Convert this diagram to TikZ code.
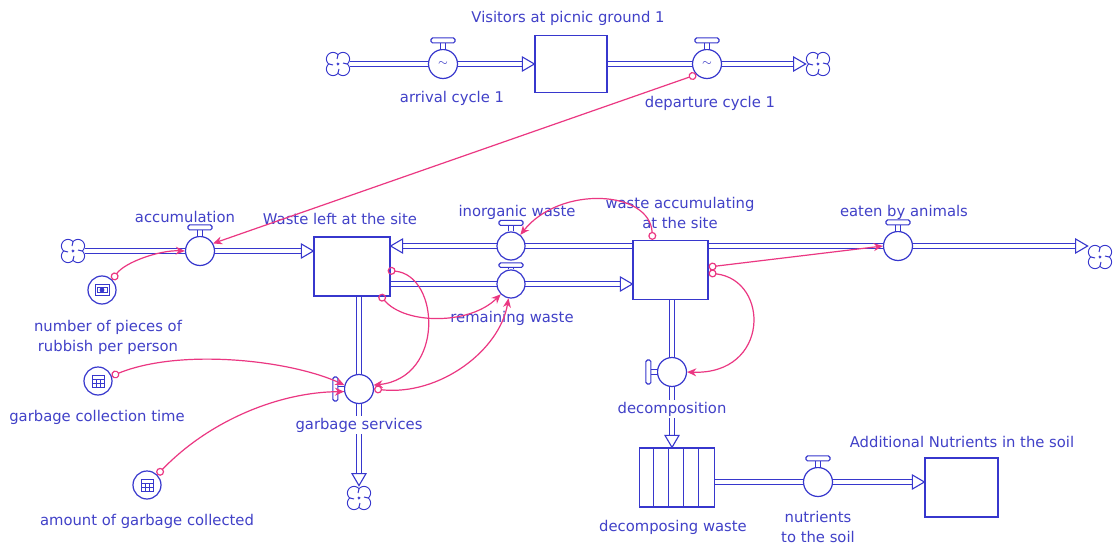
\documentclass[tikz,border=0pt]{standalone}
\usepackage{fontspec}
\newfontfamily\lblfont{DejaVu Sans}
\usetikzlibrary{arrows.meta}
\definecolor{fblue}{RGB}{55,55,205}
\definecolor{tblue}{RGB}{65,65,200}
\definecolor{cpink}{RGB}{235,55,130}
\pgfdeclarelayer{bg}
\pgfsetlayers{bg,main}
\newcommand\ftip[2]{\draw[tipshape, shift={#1}, rotate=#2] (0,0) -- (-12,-7) -- (-12,7) -- cycle;}
\newcommand\hdltop[1]{\draw[pipe] (#1.north) -- ++(0,-6);
  \draw[handlebar] ([shift={(-12,-6)}]#1.north) rectangle ([shift={(12,-11)}]#1.north);}
\newcommand\hdlleft[1]{\draw[pipe] (#1.west) -- ++(-6,0);
  \draw[handlebar] ([shift={(-6,-12)}]#1.west) rectangle ([shift={(-11,12)}]#1.west);}
\newcommand\calcicon[1]{\draw[fblue, line width=0.45pt] ([shift={(-6,-6)}]#1.center) rectangle ([shift={(6,6)}]#1.center);
  \draw[fblue, line width=0.45pt] ([shift={(-6,-2)}]#1.center) -- ([shift={(6,-2)}]#1.center)
    ([shift={(-6,2)}]#1.center) -- ([shift={(6,2)}]#1.center)
    ([shift={(-2,-2)}]#1.center) -- ([shift={(-2,6)}]#1.center)
    ([shift={(2,-2)}]#1.center) -- ([shift={(2,6)}]#1.center);}
\newcommand\cloudicon[1]{%
  \foreach \dx/\dy in {-5/-5,5/-5,-5/5,5/5}
    {\draw[fblue, line width=0.6pt, fill=white] ([shift={(\dx,\dy)}]#1.center) circle (3.25pt);}
  \foreach \dx/\dy in {-5/-5,5/-5,-5/5,5/5}
    {\fill[white] ([shift={(\dx,\dy)}]#1.center) circle (2.95pt);}
  \draw[fblue, line width=0.5pt] ([shift={(0,-9)}]#1.center) -- ([shift={(-1,-5)}]#1.center)
    ([shift={(9,0)}]#1.center) -- ([shift={(5,-1)}]#1.center)
    ([shift={(0,9)}]#1.center) -- ([shift={(1,5)}]#1.center)
    ([shift={(-9,0)}]#1.center) -- ([shift={(-5,1)}]#1.center);
}
\tikzset{
  valve/.style={circle, draw=fblue, line width=0.6pt, fill=white, minimum size=14.5pt, inner sep=0pt},
  stock/.style={rectangle, draw=fblue, line width=0.6pt, fill=white, minimum width=37.5pt, minimum height=29.5pt, inner sep=0pt},
  conv/.style={circle, draw=fblue, line width=0.6pt, fill=white, minimum size=14pt, inner sep=0pt},
  cloudn/.style={circle, minimum size=12pt, inner sep=0pt},
  lbl/.style={inner sep=1pt, align=center},
  lblw/.style={lbl, fill=white},
  pipe/.style={draw=fblue, line width=0.55pt, double=white, double distance=1.6pt},
  tipshape/.style={draw=fblue, line width=0.55pt, fill=white, line join=miter},
  handlebar/.style={draw=fblue, line width=0.55pt, fill=white, rounded corners=0.8pt},
  link/.style={draw=cpink, line width=0.6pt, {Circle[open,length=4pt,width=4pt]}-{Stealth[length=4.6pt,width=4pt]}}
}
\begin{document}
\begin{tikzpicture}[x=0.5pt, y=-0.5pt, font=\lblfont\fontsize{7.4}{10}\selectfont, text=tblue]
\useasboundingbox (0,0) rectangle (1115,546);
% ---------- nodes ----------
\node[cloudn] (c1) at (338,64) {};
\node[valve] (av) at (443,64) {\tiny$\sim$};
\node[stock, minimum width=36pt, minimum height=28.5pt] (vs) at (571,64) {};
\node[valve] (dv) at (707,64) {\tiny$\sim$};
\node[cloudn] (c2) at (818,64) {};

\node[cloudn] (c3) at (73,251) {};
\node[valve] (acc) at (200,251) {};
\node[stock, minimum width=38pt] (s1) at (352,266.5) {};
\node[valve, minimum size=14pt] (iw) at (511,246) {};
\node[valve, minimum size=14pt] (rw) at (511,284) {};
\node[stock] (s2) at (670.5,270) {};
\node[valve] (ea) at (898,246) {};
\node[cloudn] (c4) at (1100,257) {};
\node[valve] (gs) at (359,389) {};
\node[cloudn] (c5) at (359,498) {};
\node[valve] (dc) at (672,372) {};
\node[stock] (cv) at (677,477.5) {};
\node[valve] (nv) at (818,482) {};
\node[stock, minimum width=36.5pt] (s3) at (961.5,487.5) {};
\node[conv] (np) at (102,290) {};
\node[conv] (gct) at (98,381) {};
\node[conv] (amt) at (147,485) {};

% ---------- pipes ----------
\begin{pgfonlayer}{bg}
\fill[white] (0,0) rectangle (1115,546);
\draw[pipe, shorten >=6pt] (c1) -- (vs.west);
\draw[pipe, shorten >=6pt] (vs.east) -- (c2.west);
\draw[pipe, shorten >=6pt] (c3) -- (s1.west |- acc);
\draw[pipe, shorten >=6pt] (s2.west |- iw) -- (s1.east |- iw);
\draw[pipe, shorten >=6pt] (s1.east |- rw) -- (s2.west |- rw);
\draw[pipe, shorten >=6pt] (s2.east |- ea) -- (c4.west |- ea);
\draw[pipe, shorten >=6pt] (s1.south -| gs) -- (c5.north -| gs);
\draw[pipe, shorten >=6pt] (s2.south -| dc) -- (cv.north -| dc);
\draw[pipe, shorten >=6pt] (cv.east |- nv) -- (s3.west |- nv);
\end{pgfonlayer}
\cloudicon{c1}
\cloudicon{c2}
\cloudicon{c3}
\cloudicon{c4}
\cloudicon{c5}
\ftip{(vs.west)}{0}
\ftip{(c2.west)}{0}
\ftip{(s1.west |- acc)}{0}
\ftip{(s1.east |- iw)}{180}
\ftip{(s2.west |- rw)}{0}
\ftip{(c4.west |- ea)}{0}
\ftip{(c5.north -| gs)}{-90}
\ftip{(cv.north -| dc)}{-90}
\ftip{(s3.west |- nv)}{0}

% conveyor slats
\foreach \i in {1,...,4} {
  \draw[fblue, line width=0.6pt] ([xshift=\i*7.4pt]cv.north west) -- ([xshift=\i*7.4pt]cv.south west);
}

% ---------- handles ----------
\hdltop{av}
\hdltop{dv}
\hdltop{acc}
\hdltop{iw}
\hdltop{ea}
\hdltop{nv}
\draw[pipe] (rw.north) -- ++(0,-2);
\draw[handlebar] ([shift={(-12,-2)}]rw.north) rectangle ([shift={(12,-6.5)}]rw.north);
\hdlleft{gs}
\hdlleft{dc}

% ---------- converter icons ----------
\draw[fblue, line width=0.45pt] ([shift={(-7,-5.5)}]np.center) rectangle ([shift={(7,5.5)}]np.center);
\draw[fblue, line width=0.45pt] ([shift={(-5,-2.5)}]np.center) rectangle ([shift={(5,2.5)}]np.center);
\fill[fblue] (np.center) circle (1.2pt);
\calcicon{gct}
\calcicon{amt}

% ---------- labels ----------
\node[lbl] (lvs) at (568,18) {Visitors at picnic ground 1};
\node[lbl] (lav) at (452,98) {arrival cycle 1};
\node[lbl] (ldv) at (710,103) {departure cycle 1};
\node[lbl] (lacc) at (185,217) {accumulation};
\node[lbl] (ls1) at (340,219) {Waste left at the site};
\node[lbl] (liw) at (517,212) {inorganic waste};
\node[lbl] (ls2) at (680,213) {waste accumulating\\at the site};
\node[lbl] (lrw) at (512,318) {remaining waste};
\node[lbl] (lea) at (904,212) {eaten by animals};
\node[lbl] (lnp) at (108,337) {number of pieces of\\rubbish per person};
\node[lbl] (lgct) at (97,417) {garbage collection time};
\node[lbl] (lamt) at (147,521) {amount of garbage collected};
\node[lblw] (lgs) at (359,425) {garbage services};
\node[lblw] (ldc) at (672,409) {decomposition};
\node[lbl] (lcv) at (673,527) {decomposing waste};
\node[lbl] (lnv) at (818,527) {nutrients\\to the soil};
\node[lbl] (ls3) at (962,442) {Additional Nutrients in the soil};

% ---------- information links ----------
\draw[link] (dv.225) -- (acc.30);
\draw[link] (np.45) .. controls (125,262) and (160,250) .. (acc.west);
\draw[link] (gct.20) .. controls (180,348) and (290,360) .. (gs.165);
\draw[link] (amt.45) .. controls (210,420) and (280,392) .. (gs.190);
\draw[link] ([shift={(-3,4)}]s1.east) .. controls (440,275) and (445,378) .. (gs.15);
\draw[link] (gs.east) .. controls (440,396) and (500,350) .. (rw.-100);
\draw[link] ([shift={(-11,-2)}]s1.south east) .. controls (405,325) and (470,325) .. (rw.-135);
\draw[link] ([shift={(-18,0)}]s2.north) .. controls (650,190) and (560,185) .. (iw.50);
\draw[link] ([shift={(0,-3)}]s2.east) -- (ea.west);
\draw[link] ([shift={(0,3)}]s2.east) .. controls (770,280) and (770,375) .. (dc.east);
\end{tikzpicture}
\end{document}
